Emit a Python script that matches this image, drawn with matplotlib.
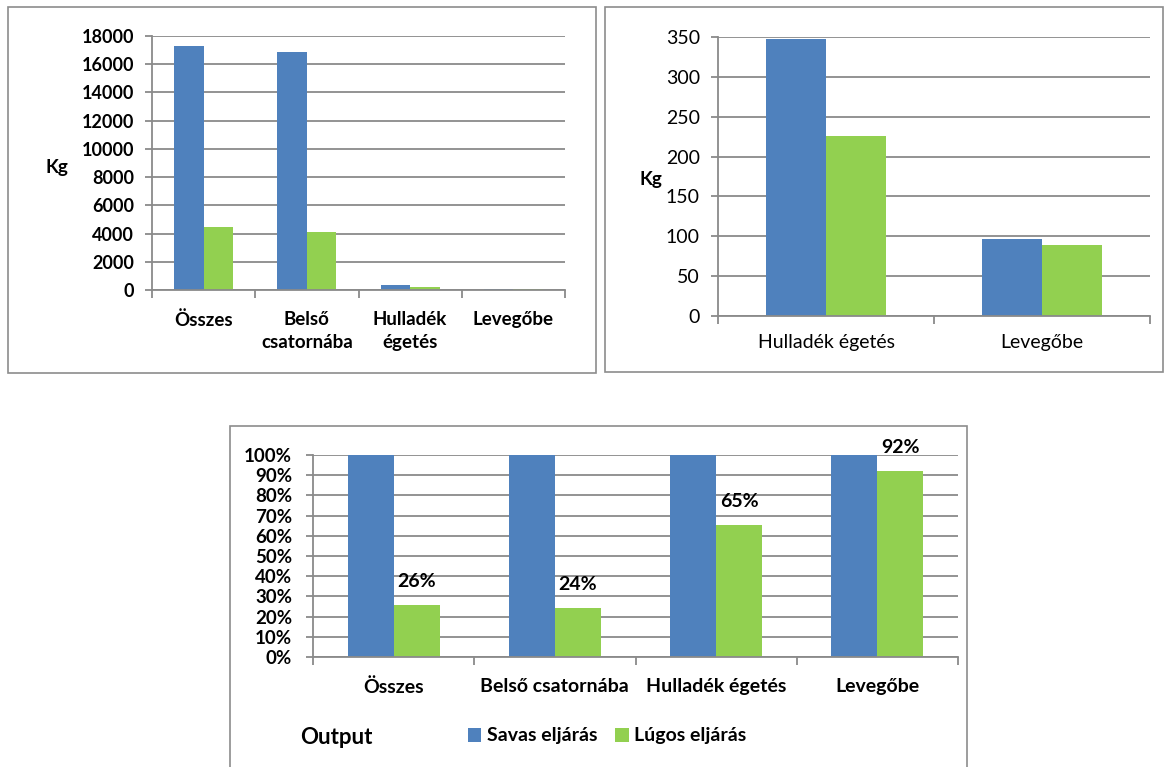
import numpy as np
import matplotlib.pyplot as plt
from matplotlib.patches import Rectangle

plt.rcParams['font.family'] = ['Lato', 'DejaVu Sans']

# Kibocsátás kg-ban, output szerint
kategoriak = ['Összes', 'Belső csatornába', 'Hulladék égetés', 'Levegőbe']
kat_ket_sor = ['Összes', 'Belső\ncsatornába', 'Hulladék\négetés', 'Levegőbe']
savas = [17300, 16900, 347, 96]
lugos = [4450, 4100, 226, 88.5]
sorozatok = ['Savas eljárás', 'Lúgos eljárás']

kek = '#4F81BD'
zold = '#92D050'
racs = '#8a8a8a'

W, H = 1170, 767
fig = plt.figure(figsize=(W / 100, H / 100), dpi=100)


def px_axes(left, top, right, bottom):
    return fig.add_axes([left / W, 1 - bottom / H, (right - left) / W, (bottom - top) / H])


def keret(left, top, right, bottom):
    fig.patches.append(Rectangle((left / W, 1 - bottom / H), (right - left) / W, (bottom - top) / H,
                                 transform=fig.transFigure, fill=False, edgecolor='#8c8c8c', lw=1.2))


def oszlopok(ax, a, b, ymax, step, bold, fs, xfs, labels, group=0.57):
    x = np.arange(len(a))
    w = group / 2
    b1 = ax.bar(x - w / 2, a, w, color=kek, zorder=3)
    b2 = ax.bar(x + w / 2, b, w, color=zold, zorder=3)
    ax.set_xlim(-0.5, len(a) - 0.5)
    ax.set_ylim(0, ymax)
    ax.set_yticks(np.arange(0, ymax + step / 2, step))
    ax.yaxis.grid(True, color=racs, lw=1.3, zorder=0)
    ax.set_axisbelow(True)
    for s in ['top', 'right']:
        ax.spines[s].set_visible(False)
    for s in ['left', 'bottom']:
        ax.spines[s].set_color(racs)
        ax.spines[s].set_linewidth(1.3)
        ax.spines[s].set_zorder(4)
    ax.set_xticks(x)
    ax.set_xticklabels(labels, fontsize=xfs, fontweight='bold' if bold else 'normal',
                       linespacing=1.45)
    ax.set_xticks(np.arange(-0.5, len(a)), minor=True)
    ax.tick_params(axis='x', which='major', length=0, pad=12)
    ax.tick_params(axis='x', which='minor', length=6, color=racs, width=1.3)
    ax.tick_params(axis='y', length=5, color=racs, width=1.3, labelsize=fs, pad=8)
    for t in ax.get_yticklabels():
        t.set_fontweight('bold' if bold else 'normal')
    return b1, b2


# Bal felső: összes kategória
keret(8, 7, 596, 373)
ax1 = px_axes(152, 36, 565, 290)
oszlopok(ax1, savas, lugos, 18000, 2000, True, 13, 13.5, kat_ket_sor)
ax1.tick_params(axis='x', which='major', pad=15)
fig.text(57 / W, 1 - 167 / H, 'Kg', fontsize=13.5, fontweight='bold', ha='center', va='center')

# Jobb felső: csak a kis értékek
keret(605, 7, 1163, 372)
ax2 = px_axes(718, 37, 1150, 316)
oszlopok(ax2, savas[2:], lugos[2:], 350, 50, False, 14, 14, kategoriak[2:], group=0.555)
ax2.tick_params(axis='x', which='major', pad=13)
fig.text(651 / W, 1 - 180 / H, 'Kg', fontsize=13.5, fontweight='bold', ha='center', va='center')

# Alsó: lúgos eljárás a savas százalékában
szazalek = [l / s * 100 for l, s in zip(lugos, savas)]
keret(230, 426, 967, 800)
ax3 = px_axes(313, 455, 958, 657)
b1, b2 = oszlopok(ax3, [100] * 4, szazalek, 100, 10, True, 13.5, 14, kategoriak, group=0.57)
ax3.set_yticklabels([f'{v}%' for v in range(0, 101, 10)])
for t in ax3.get_yticklabels():
    t.set_fontweight('bold')
ax3.tick_params(axis='y', pad=10)
ax3.tick_params(axis='x', which='major', pad=15)
for r, p in zip(b2, szazalek):
    ax3.annotate(f'{p:.0f}%', (r.get_x() + r.get_width() / 2, p), xytext=(0, 11),
                 textcoords='offset points', ha='center', va='bottom',
                 fontsize=14, fontweight='bold', annotation_clip=False)

fig.text(300 / W, 1 - 737 / H, 'Output', fontsize=16, fontweight='bold', va='center')
fig.legend([b1, b2], sorozatok, loc='center left', bbox_to_anchor=(450 / W, 1 - 736 / H),
           ncol=2, frameon=False, handlelength=0.7, handleheight=0.7, handletextpad=0.3,
           columnspacing=0.9, prop={'size': 14, 'weight': 'bold'})

fig.savefig('out.png', dpi=100)
